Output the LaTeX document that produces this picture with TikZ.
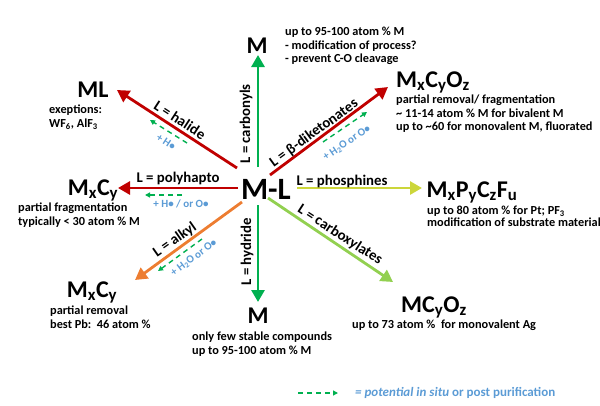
\documentclass[tikz,border=0pt]{standalone}
\usepackage{fontspec}
\setmainfont{Carlito}
\usepackage{tikz}
\usetikzlibrary{arrows.meta}
\definecolor{dunkelrot}{RGB}{192,0,0}
\definecolor{gruen}{RGB}{0,176,80}
\definecolor{hellgruen}{RGB}{146,208,80}
\definecolor{gelbgruen}{RGB}{204,214,58}
\definecolor{orangeton}{RGB}{237,125,49}
\definecolor{blau}{RGB}{91,155,213}

\begin{document}
\begin{tikzpicture}[x=1pt,y=-1pt,>={Triangle[length=12pt,width=13pt]},
	pfeil/.style={->,line width=2.8pt},
	nachher/.style={-{Triangle[length=5pt,width=5pt]},gruen,line width=1.4pt,dash pattern=on 5pt off 4pt},
	gross/.style={font=\fontsize{24}{24}\selectfont\bfseries,inner sep=0pt,anchor=base},
	klein/.style={font=\fontsize{12.3}{13.5}\selectfont\bfseries,align=left,anchor=north west,inner sep=0pt},
	ligand/.style={font=\fontsize{14.8}{14.8}\selectfont\bfseries,inner sep=0pt},
	zusatz/.style={font=\fontsize{11}{11}\selectfont\bfseries,text=blau,inner sep=0pt}]
	\useasboundingbox (0,0) rectangle (600,405);

	%Zentrum und Produkte
	\node[inner sep=0pt,anchor=base,font=\fontsize{31}{31}\selectfont\bfseries] (ml) at (266,199) {M-L};
	\node[gross] (mtop) at (257,53) {M};
	\node[gross] (mhal) at (93,97) {ML};
	\node[gross] (mpoly) at (93,195) {M\textsubscript{x}C\textsubscript{y}};
	\node[gross] (malk) at (92,297) {M\textsubscript{x}C\textsubscript{y}};
	\node[gross] (mbot) at (258,323) {M};
	\node[gross] (mcarb) at (434,312) {MC\textsubscript{y}O\textsubscript{z}};
	\node[gross] (mphos) at (472,197) {M\textsubscript{x}P\textsubscript{y}C\textsubscript{z}F\textsubscript{u}};
	\node[gross] (mdik) at (433,87) {M\textsubscript{x}C\textsubscript{y}O\textsubscript{z}};

	%Bemerkungen
	\node[klein] (btop) at (285,27) {up to 95-100 atom \% M\\- modification of process?\\- prevent C-O cleavage};
	\node[klein] (bhal) at (49,105) {exeptions:\\WF\textsubscript{6}, AlF\textsubscript{3}};
	\node[klein] (bpoly) at (18,203) {partial fragmentation\\typically < 30 atom \% M};
	\node[klein] (balk) at (50,306) {partial removal\\best Pb:\ \ 46 atom \%};
	\node[klein] (bbot) at (192,332) {only few stable compounds\\up to 95-100 atom \% M};
	\node[klein] (bcarb) at (352,320) {up to 73 atom \%\ \ for monovalent Ag};
	\node[klein] (bdik) at (396,95) {partial removal/ fragmentation\\\textasciitilde{} 11-14 atom \% M for bivalent M\\up to \textasciitilde60 for monovalent M, fluorated};
	\node[klein,font=\fontsize{12.3}{12.2}\selectfont\bfseries] (bphos) at (427,206) {up to 80 atom \% for Pt; PF\textsubscript{3}\\modification of substrate material};

	%Pfeile zeichnen
	\coordinate (c0) at (258,167); \coordinate (c1) at (258,55);
	\coordinate (h0) at (237,168); \coordinate (h1) at (117,90);
	\coordinate (p0) at (238,188); \coordinate (p1) at (118,188);
	\coordinate (a0) at (242,202); \coordinate (a1) at (135,280);
	\coordinate (y0) at (258,205); \coordinate (y1) at (258,302);
	\coordinate (x0) at (268,198); \coordinate (x1) at (393,282);
	\coordinate (f0) at (297,188); \coordinate (f1) at (422,188);
	\coordinate (d0) at (270,175); \coordinate (d1) at (388,87);
	\foreach \s/\f in {c/gruen,h/dunkelrot,p/dunkelrot,a/orangeton,y/gruen,x/hellgruen,f/gelbgruen,d/dunkelrot}
		\draw[pfeil,\f] (\s0) -- (\s1);

	\node[ligand,rotate=90] (lcarb) at (246,124) {L = carbonyls};
	\node[ligand,rotate=-33] (lhal) at (180,120) {L = halide};
	\node[ligand] (lpoly) at (178,178) {L = polyhapto};
	\node[ligand,rotate=36] (ldik) at (314,133) {L = β-diketonates};
	\node[ligand] (lphos) at (342,181) {L = phosphines};
	\node[ligand,rotate=-33] (lcarbox) at (340,235) {L = carboxylates};
	\node[ligand,rotate=90] (lhyd) at (247,252) {L = hydride};
	\node[ligand,rotate=35] (lalk) at (175,240) {L = alkyl};

	%gestrichelte Pfeile
	\coordinate (n1a) at (187,143); \coordinate (n1b) at (150,120);
	\coordinate (n2a) at (182,195); \coordinate (n2b) at (145,195);
	\coordinate (n3a) at (202,239); \coordinate (n3b) at (158,271);
	\coordinate (n4a) at (323,142); \coordinate (n4b) at (367,112);
	\coordinate (n5a) at (298,393); \coordinate (n5b) at (338,393);
	\foreach \i in {1,...,5}
		\draw[nachher] (n\i a) -- (n\i b);

	\node[zusatz,rotate=-33] (zhal) at (166,142) {+ H\textbullet};
	\node[zusatz] (zpoly) at (181,204) {+ H\textbullet\ / or O\textbullet};
	\node[zusatz,rotate=37] (zalk) at (194,258) {+ H\textsubscript{2}O or O\textbullet};
	\node[zusatz,rotate=34] (zdik) at (347,143) {+ H\textsubscript{2}O or O\textbullet};

	\node[inner sep=0pt,anchor=west,text=blau,font=\fontsize{13}{13}\selectfont\bfseries] (legende) at (355,393) {\itshape = potential in situ\upshape{} or post purification};
\end{tikzpicture}
\end{document}
